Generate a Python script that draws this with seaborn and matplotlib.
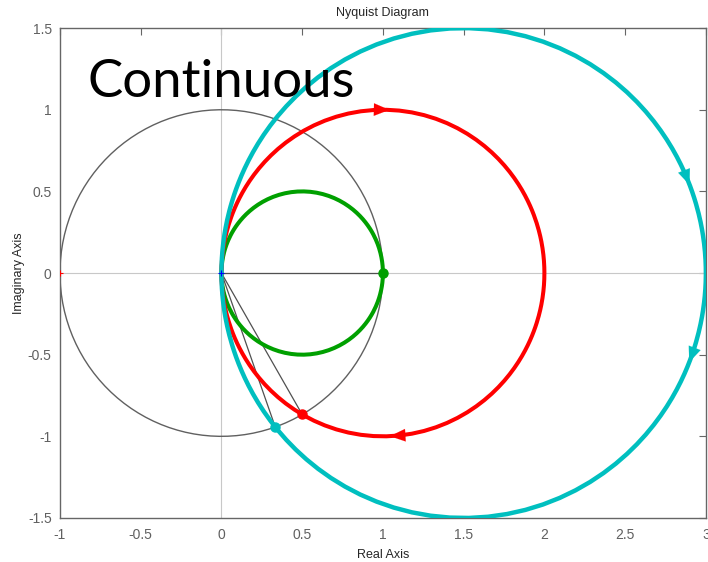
import numpy as np
import pandas as pd
import matplotlib
matplotlib.use("Agg")
import matplotlib.pyplot as plt
import seaborn as sns

# Open-loop gains of G(s) = K / (s + 1)
gains = [1.0, 2.0, 3.0]
series_colors = ["#00A000", "#FF0000", "#00BFBF"]
# frequencies (rad/s) where direction arrows are drawn for each gain
arrow_freqs = [[], [-1.0, 0.92], [-0.2, 0.175]]

x_ticks = [-1, -0.5, 0, 0.5, 1, 1.5, 2, 2.5, 3]
y_ticks = [-1.5, -1, -0.5, 0, 0.5, 1, 1.5]
x_range = (-1, 3)
y_range = (-1.5, 1.5)


def freq_response(k, w):
    return k / (1j * w + 1)


sns.set_style("white")
plt.rcParams["font.family"] = ["Liberation Sans", "DejaVu Sans"]

fig = plt.figure(figsize=(7.08, 5.62), dpi=100)
ax = fig.add_axes([0.0847, 0.0783, 0.9123, 0.8717])

# reference axes through the origin
ax.axhline(0, color="#c8c8c8", lw=0.8, zorder=1)
ax.axvline(0, color="#c8c8c8", lw=0.8, zorder=1)

# unit circle
theta = np.linspace(0, 2 * np.pi, 120)
ax.plot(np.cos(theta), np.sin(theta), color="#606060", lw=1.0, zorder=2)

w_pos = np.logspace(-2.5, 3, 160)
w_all = np.concatenate([-w_pos[::-1], w_pos])

frames = []
for k in gains:
    g = freq_response(k, w_all)
    frames.append(pd.DataFrame({"re": g.real, "im": g.imag, "K": k}))
data = pd.concat(frames, ignore_index=True)

line_widths = [2.9, 2.9, 3.2]
for k, col, aw, lw in zip(gains, series_colors, arrow_freqs, line_widths):
    sub = data[data["K"] == k]
    sns.lineplot(data=sub, x="re", y="im", sort=False, estimator=None,
                 color=col, lw=lw, ax=ax, zorder=4)

    # gain crossover |G(jw)| = 1 and the phase-margin segment to the origin
    wc = np.sqrt(k ** 2 - 1)
    gc = freq_response(k, wc)
    ax.plot([0, gc.real], [0, gc.imag], color="#505050", lw=0.9, zorder=3)
    ax.plot(gc.real, gc.imag, "o", color=col, ms=6.5, zorder=6)

    # direction arrows along the curve
    for wa in aw:
        p = freq_response(k, wa)
        p2 = freq_response(k, wa + 0.02 * (1 + abs(wa)))
        d = np.array([p2.real - p.real, p2.imag - p.imag])
        d = d / np.hypot(*d)
        tail = np.array([p.real, p.imag]) - 0.08 * d
        ax.annotate("", xy=(p.real + 0.04 * d[0], p.imag + 0.04 * d[1]),
                    xytext=tail,
                    arrowprops=dict(arrowstyle="-|>,head_length=1.1,head_width=0.45",
                                    color=col, lw=0.1, shrinkA=0, shrinkB=0),
                    zorder=7)

# critical point and origin markers
ax.plot(-1, 0, "+", color="red", ms=5, mew=0.8, zorder=5)
ax.plot(0, 0, "+", color="blue", ms=4, mew=0.8, zorder=5)

ax.set_xlim(*x_range)
ax.set_ylim(*y_range)
ax.set_xticks(x_ticks)
ax.set_yticks(y_ticks)
ax.set_xticklabels([f"{t:g}" for t in x_ticks])
ax.set_yticklabels([f"{t:g}" for t in y_ticks])
ax.tick_params(direction="in", length=5, width=0.8, color="#666666",
               labelcolor="#606060", labelsize=10, top=True, right=True)
ax.tick_params(axis="x", pad=7)
ax.tick_params(axis="y", pad=6)
for s in ax.spines.values():
    s.set_color("#666666")
    s.set_linewidth(1.0)

ax.set_title("Nyquist Diagram", fontsize=9, pad=9)
ax.set_xlabel("Real Axis", fontsize=9, labelpad=5)
ax.set_ylabel("Imaginary Axis", fontsize=9, labelpad=2)

ax.text(-0.827, 1.078, "Continuous", fontsize=38, family="Lato",
        va="baseline", ha="left", color="black", zorder=8)

fig.savefig("out.png", dpi=100)
